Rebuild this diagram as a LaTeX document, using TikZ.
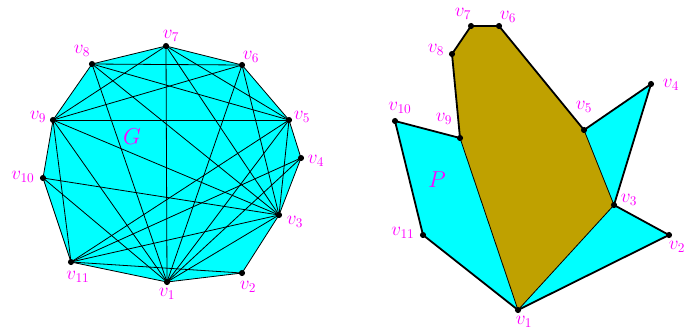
\documentclass[tikz,border=0pt]{standalone}
\usepackage{amsmath, amssymb}
\usepackage{tikz}
\definecolor{polycyan}{HTML}{00FFFF}
\definecolor{polybrown}{HTML}{BFA100}
\definecolor{lab}{HTML}{FF00FF}
\tikzset{
  vertex/.style={circle, fill=black, inner sep=0pt, minimum size=4.6pt},
  vlabel/.style={text=lab, font=\Large, inner sep=0pt},
  thinedge/.style={line width=0.6pt},
  thickedge/.style={line width=1.35pt}
}

\begin{document}
\begin{tikzpicture}[x=0.75pt, y=-0.75pt, line join=round]
    \useasboundingbox (0,0) rectangle (684,330);
    % left polygon, the graph
    \foreach \i/\x/\y in {1/167/282,2/242/273,3/279/215,4/301/158,5/289/120,
      6/242/65,7/166/46,8/92/64,9/53/120,10/43/178,11/71/262}{
      \coordinate (c\i) at (\x,\y);
    }
    \fill[polycyan] (c1) -- (c2) -- (c3) -- (c4) -- (c5) -- (c6) -- (c7)
      -- (c8) -- (c9) -- (c10) -- (c11) -- cycle;
    \foreach \i in {1,...,11}{
      \node[vertex] (a\i) at (c\i) {};
    }
    \foreach \s/\t in {1/2,2/3,3/4,4/5,5/6,6/7,7/8,8/9,9/10,10/11,11/1,
      1/3,1/4,1/5,1/6,1/7,1/8,1/9,1/10,11/2,11/3,11/4,11/5,11/9,
      10/3,9/3,9/5,9/6,9/7,8/3,8/5,8/6,7/3,7/5,6/3,5/3}{
      \draw[thinedge] (a\s.center) -- (a\t.center);
    }
    \foreach \i/\x/\y in {1/167/294,2/248/287,3/295/222,4/316/161,5/302/117,
      6/251/57,7/171/36,8/82/51,9/38/117,10/23/177,11/78/277}{
      \node[vlabel] (la\i) at (\x,\y) {$v_{\i}$};
    }
    \node[text=lab, font=\LARGE] (G) at (132,137) {$G$};
    % right polygon
    \foreach \i/\x/\y in {1/518/310,2/669/235,3/614/205,4/651/84,5/584/130,
      6/499/26,7/471/26,8/452/54,9/460/138,10/395/121,11/423/235}{
      \coordinate (d\i) at (\x,\y);
    }
    \fill[polycyan] (d1) -- (d2) -- (d3) -- (d4) -- (d5) -- (d6) -- (d7)
      -- (d8) -- (d9) -- (d10) -- (d11) -- cycle;
    \fill[polybrown] (d1) -- (d3) -- (d5) -- (d6) -- (d7) -- (d8) -- (d9) -- cycle;
    \foreach \i in {1,...,11}{
      \node[vertex] (b\i) at (d\i) {};
    }
    \foreach \s/\t in {1/2,2/3,3/4,4/5,5/6,6/7,7/8,8/9,9/10,10/11,11/1}{
      \draw[thickedge] (b\s.center) -- (b\t.center);
    }
    \foreach \s/\t in {1/3,3/5,1/9}{
      \draw[thinedge] (b\s.center) -- (b\t.center);
    }
    \foreach \i/\x/\y in {1/524/322,2/677/247,3/629/200,4/671/85,5/584/107,
      6/508/17,7/463/14,8/436/50,9/444/119,10/400/108,11/403/233}{
      \node[vlabel] (lb\i) at (\x,\y) {$v_{\i}$};
    }
    \node[text=lab, font=\LARGE] (P) at (437,180) {$P$};
  \end{tikzpicture}
\end{document}
